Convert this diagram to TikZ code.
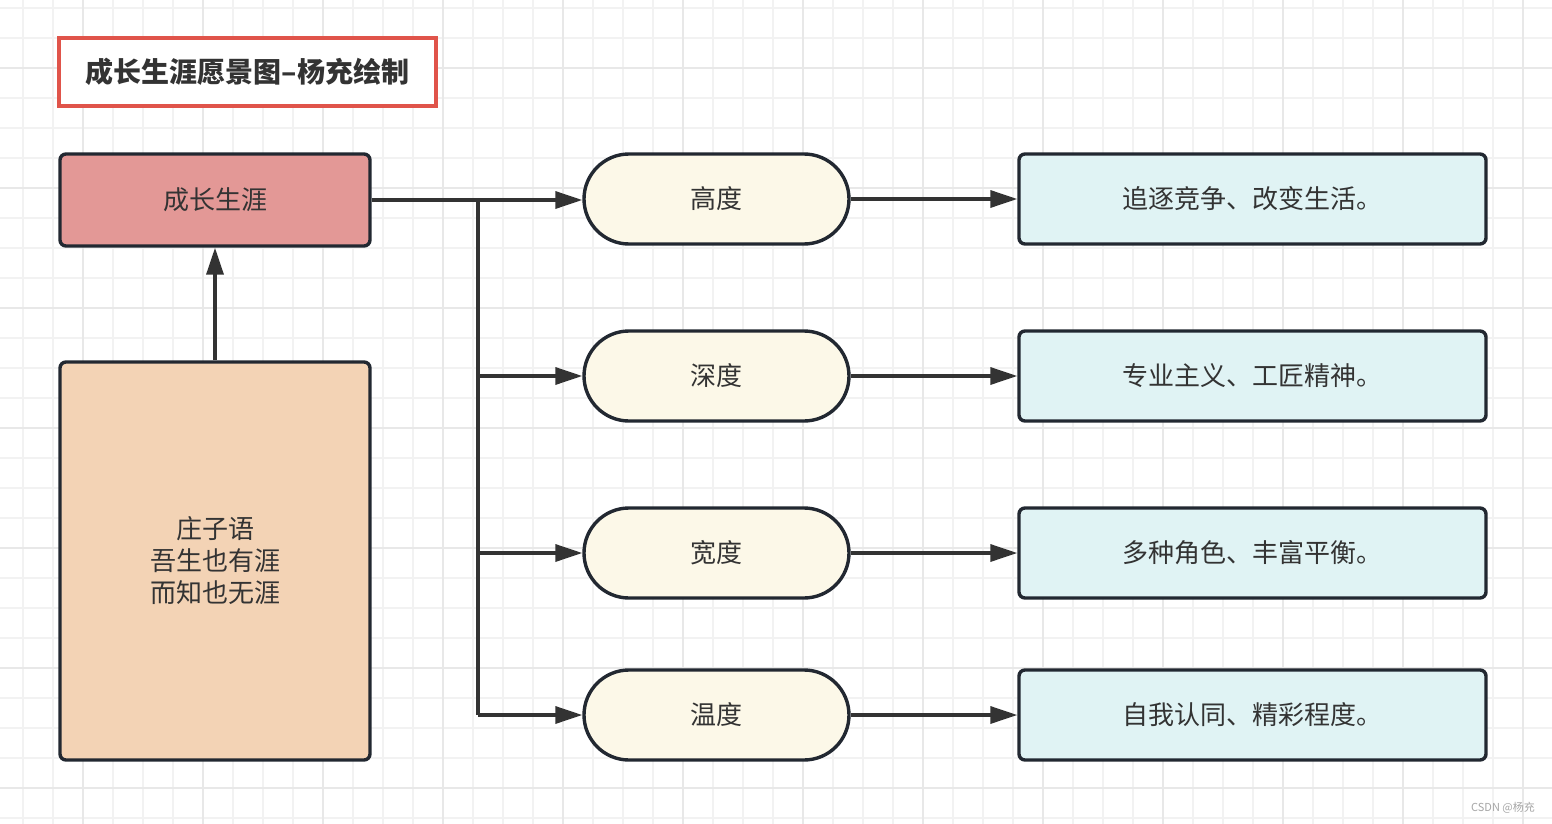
\documentclass[tikz,border=0pt]{standalone}
\usepackage{fontspec}
\setmainfont{Noto Sans CJK SC}
\usetikzlibrary{arrows.meta,shapes.misc}
\definecolor{gridminor}{HTML}{F2F2F2}
\definecolor{gridmajor}{HTML}{E8E8E8}
\definecolor{txt}{HTML}{333333}
\definecolor{edge}{HTML}{222831}
\definecolor{titlered}{HTML}{E0544A}
\definecolor{pinkfill}{HTML}{E39896}
\definecolor{peachfill}{HTML}{F3D3B5}
\definecolor{creamfill}{HTML}{FCF8E8}
\definecolor{bluefill}{HTML}{E0F3F4}
\definecolor{arrowc}{HTML}{333333}
\tikzset{
  base/.style={draw=edge, line width=3.4pt, text=txt, font=\fontsize{26}{32}\selectfont, align=center, inner sep=0pt},
  rbox/.style={base, rounded corners=6pt, minimum width=#1},
  pill/.style={base, rounded rectangle, fill=creamfill, minimum width=265pt, minimum height=90pt},
  bluebox/.style={base, rounded corners=6pt, fill=bluefill, minimum width=467pt, minimum height=90pt},
  conn/.style={draw=arrowc, line width=3.4pt, -{Triangle[length=27pt,width=17pt]}},
  plainline/.style={draw=arrowc, line width=3.4pt},
}
\begin{document}
\begin{tikzpicture}[x=1pt,y=-1pt]
\useasboundingbox (0,0) rectangle (1552,824);
\fill[white] (0,0) rectangle (1552,824);
% grid
\foreach \x in {23,53,...,1552} \draw[gridminor, line width=1.5pt] (\x,0) -- (\x,824);
\foreach \y in {8,38,...,824} \draw[gridminor, line width=1.5pt] (0,\y) -- (1552,\y);
\foreach \x in {83,203,...,1552} \draw[gridmajor, line width=2pt] (\x,0) -- (\x,824);
\foreach \y in {68,188,...,824} \draw[gridmajor, line width=2pt] (0,\y) -- (1552,\y);

% title
\node[draw=titlered, line width=3.4pt, fill=white, minimum width=377pt, minimum height=68pt, inner sep=0pt, text=txt, font=\fontsize{28}{32}\selectfont\bfseries] (title) at (247.5,72) {成长生涯愿景图–杨充绘制};

% left
\node[rbox=310pt, fill=pinkfill, minimum height=92pt] (career) at (215,200) {成长生涯};
\node[rbox=310pt, fill=peachfill, minimum height=398pt] (zz) at (215,561) {庄子语\\吾生也有涯\\而知也无涯};

% pills
\node[pill] (p1) at (716.5,199) {高度};
\node[pill] (p2) at (716.5,376) {深度};
\node[pill] (p3) at (716.5,553) {宽度};
\node[pill] (p4) at (716.5,715) {温度};

% blue
\node[bluebox] (b1) at (1252.5,199) {追逐竞争、改变生活。};
\node[bluebox] (b2) at (1252.5,376) {专业主义、工匠精神。};
\node[bluebox] (b3) at (1252.5,553) {多种角色、丰富平衡。};
\node[bluebox] (b4) at (1252.5,715) {自我认同、精彩程度。};

% connectors
\coordinate (trunk) at (478,200);
\coordinate (tb) at (478,715);
\draw[conn] (zz.north) -- (career.south);
\draw[conn] (career.east |- 0,200) -- (p1.west |- 0,200);
\draw[plainline] (trunk) -- (tb);
\draw[conn] (trunk |- p2.west) -- (p2.west);
\draw[conn] (trunk |- p3.west) -- (p3.west);
\draw[conn] (tb) -- (p4.west);
\draw[conn] (p1.east) -- (b1.west);
\draw[conn] (p2.east) -- (b2.west);
\draw[conn] (p3.east) -- (b3.west);
\draw[conn] (p4.east) -- (b4.west);

% watermark
\node[text=gray!70, font=\fontsize{11}{12}\selectfont, inner sep=0pt] (wm) at (1503,808) {CSDN @杨充};
\end{tikzpicture}
\end{document}
